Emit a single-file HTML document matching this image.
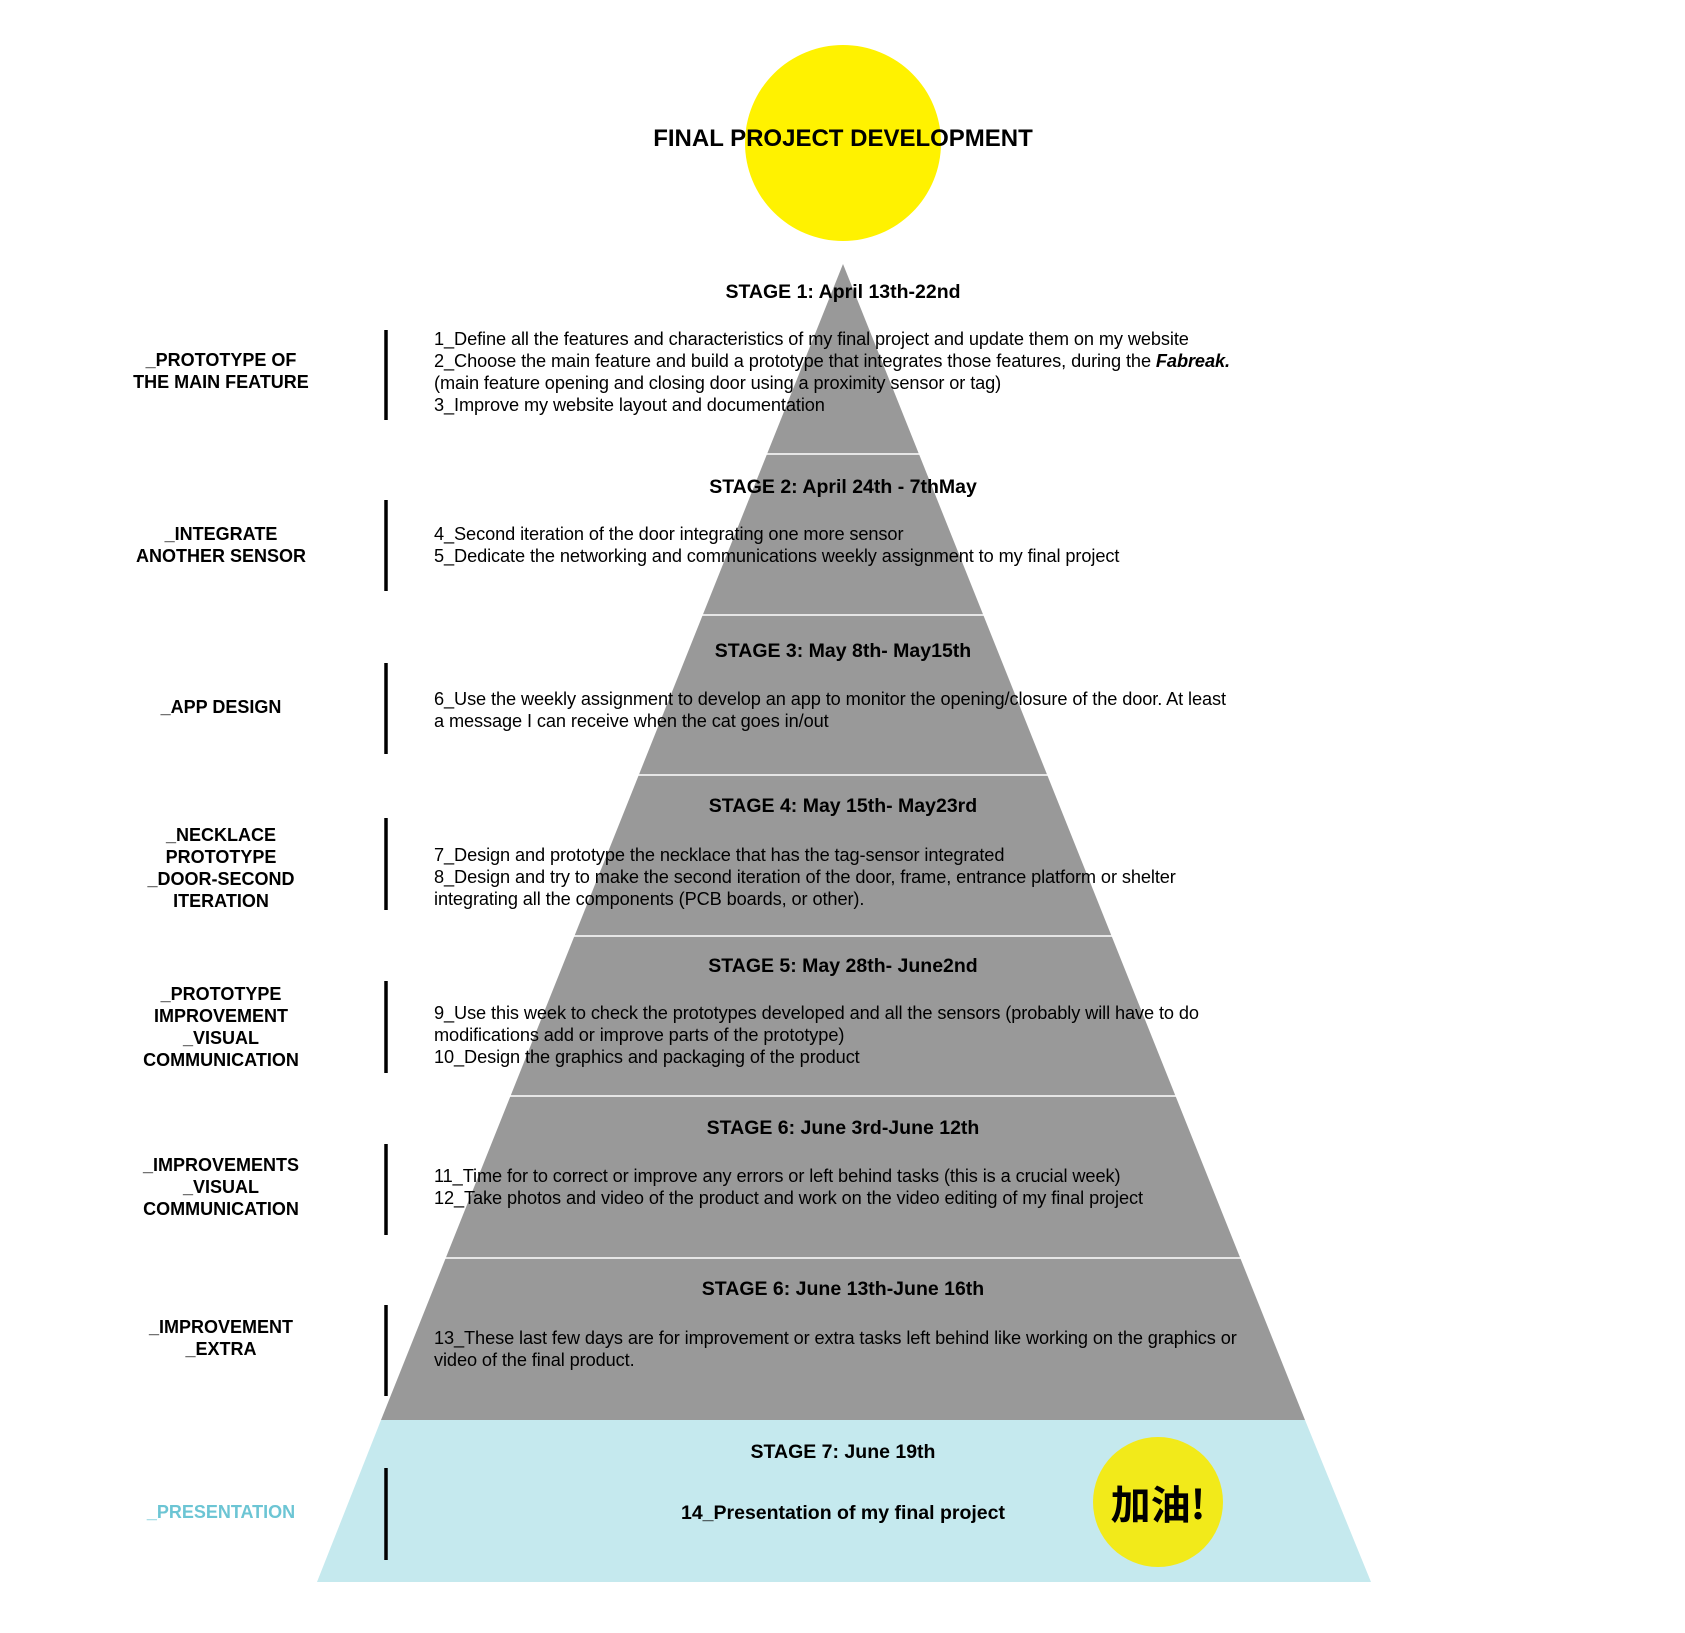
<!DOCTYPE html>
<html><head><meta charset="utf-8"><style>
html,body{margin:0;padding:0;background:#fff}
#c{position:relative;width:1685px;height:1633px;overflow:hidden;font-family:"Liberation Sans","Noto Sans CJK SC",sans-serif;color:#000}
svg{position:absolute;left:0;top:0}
.t{position:absolute;white-space:nowrap;line-height:22px}
.h{left:493px;width:700px;text-align:center;font-weight:bold;font-size:19.5px}
.b{left:434px;font-size:18.2px;letter-spacing:-0.1px}
.l{left:99px;width:244px;text-align:center;font-weight:bold;font-size:18px}
</style></head><body><div id="c">
<svg width="1685" height="1633">
<circle cx="843" cy="143" r="98" fill="#fff200"/>
<polygon points="843,264 381,1420 1305,1420" fill="#999"/>
<polygon points="381,1420 1305,1420 1371,1582 317,1582" fill="#c5e9ee"/>
<g stroke="#fff" stroke-width="1.5">
<line x1="0" y1="454" x2="1685" y2="454"/><line x1="0" y1="615" x2="1685" y2="615"/>
<line x1="0" y1="775" x2="1685" y2="775"/><line x1="0" y1="936" x2="1685" y2="936"/>
<line x1="0" y1="1096" x2="1685" y2="1096"/><line x1="0" y1="1258" x2="1685" y2="1258"/>
</g>
<circle cx="1158" cy="1502" r="65" fill="#f2ea1a"/>
<g stroke="#000" stroke-width="3.5">
<line x1="386" y1="330" x2="386" y2="420"/><line x1="386" y1="500" x2="386" y2="591"/>
<line x1="386" y1="663" x2="386" y2="754"/><line x1="386" y1="818" x2="386" y2="910"/>
<line x1="386" y1="981" x2="386" y2="1073"/><line x1="386" y1="1144" x2="386" y2="1235"/>
<line x1="386" y1="1305" x2="386" y2="1396"/><line x1="386" y1="1468" x2="386" y2="1560"/>
</g>
</svg>
<div class="t" style="left:543px;width:600px;text-align:center;font-weight:bold;font-size:24px;top:123px;line-height:32px">FINAL PROJECT DEVELOPMENT</div>

<div class="t h" style="top:281px">STAGE 1: April 13th-22nd</div>
<div class="t b" style="top:328px">1_Define all the features and characteristics of my final project and update them on my website<br>2_Choose the main feature and build a prototype that integrates those features, during the <b><i>Fabreak.</i></b><br>(main feature opening and closing door using a proximity sensor or tag)<br>3_Improve my website layout and documentation</div>
<div class="t l" style="top:349px">_PROTOTYPE OF<br>THE MAIN FEATURE</div>

<div class="t h" style="top:476px">STAGE 2: April 24th - 7thMay</div>
<div class="t b" style="top:523px">4_Second iteration of the door integrating one more sensor<br>5_Dedicate the networking and communications weekly assignment to my final project</div>
<div class="t l" style="top:523px">_INTEGRATE<br>ANOTHER SENSOR</div>

<div class="t h" style="top:640px">STAGE 3: May 8th- May15th</div>
<div class="t b" style="top:688px">6_Use the weekly assignment to develop an app to monitor the opening/closure of the door. At least<br>a message I can receive when the cat goes in/out</div>
<div class="t l" style="top:696px">_APP DESIGN</div>

<div class="t h" style="top:795px">STAGE 4: May 15th- May23rd</div>
<div class="t b" style="top:844px">7_Design and prototype the necklace that has the tag-sensor integrated<br>8_Design and try to make the second iteration of the door, frame, entrance platform or shelter<br>integrating all the components (PCB boards, or other).</div>
<div class="t l" style="top:824px">_NECKLACE<br>PROTOTYPE<br>_DOOR-SECOND<br>ITERATION</div>

<div class="t h" style="top:955px">STAGE 5: May 28th- June2nd</div>
<div class="t b" style="top:1002px">9_Use this week to check the prototypes developed and all the sensors (probably will have to do<br>modifications add or improve parts of the prototype)<br>10_Design the graphics and packaging of the product</div>
<div class="t l" style="top:983px">_PROTOTYPE<br>IMPROVEMENT<br>_VISUAL<br>COMMUNICATION</div>

<div class="t h" style="top:1117px">STAGE 6: June 3rd-June 12th</div>
<div class="t b" style="top:1165px">11_Time for to correct or improve any errors or left behind tasks (this is a crucial week)<br>12_Take photos and video of the product and work on the video editing of my final project</div>
<div class="t l" style="top:1154px">_IMPROVEMENTS<br>_VISUAL<br>COMMUNICATION</div>

<div class="t h" style="top:1278px">STAGE 6: June 13th-June 16th</div>
<div class="t b" style="top:1327px">13_These last few days are for improvement or extra tasks left behind like working on the graphics or<br>video of the final product.</div>
<div class="t l" style="top:1316px">_IMPROVEMENT<br>_EXTRA</div>

<div class="t h" style="top:1441px">STAGE 7: June 19th</div>
<div class="t h" style="top:1502px">14_Presentation of my final project</div>
<div class="t l" style="top:1501px;color:#6cc5d4">_PRESENTATION</div>
<div class="t" style="left:1093px;width:130px;text-align:center;top:1479px;line-height:46px;font-size:40px;font-weight:bold;font-family:'Noto Sans CJK SC',sans-serif">加油!</div>
</div></body></html>
